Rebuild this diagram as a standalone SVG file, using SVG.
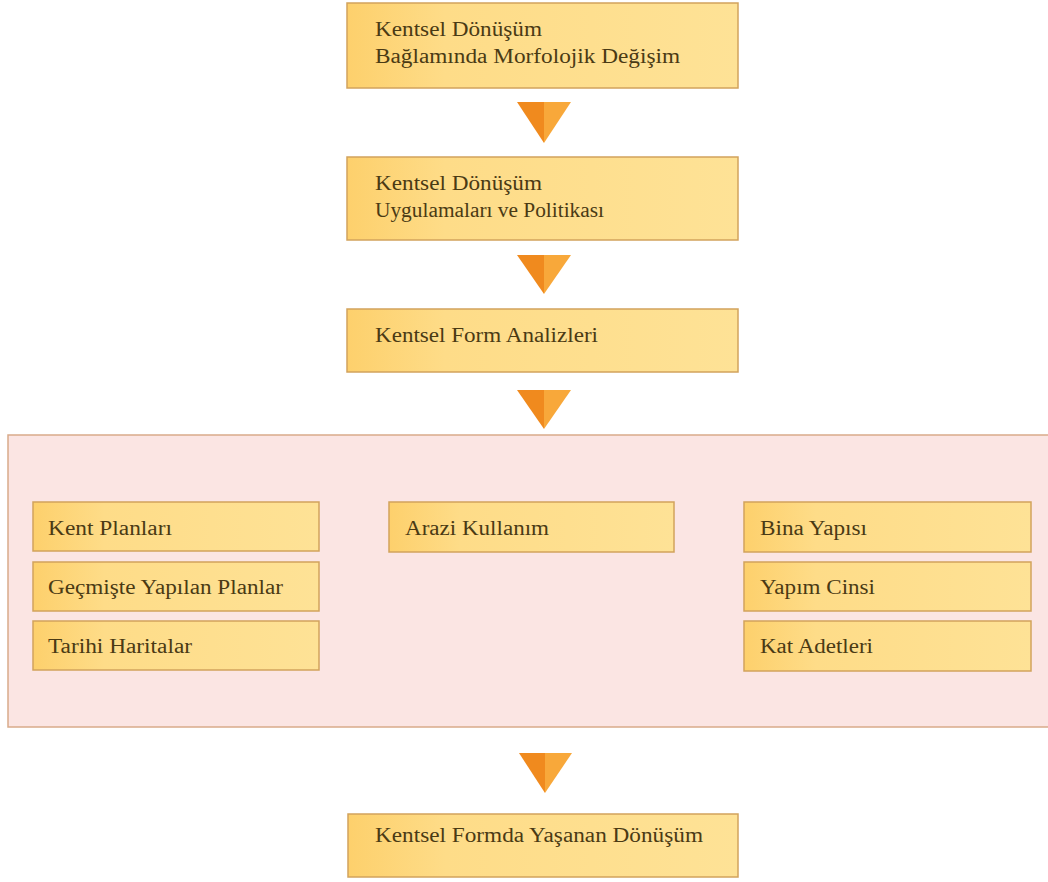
<svg xmlns="http://www.w3.org/2000/svg" width="1048" height="882" viewBox="0 0 1048 882">
<style>
.box{fill:url(#g);stroke:#d2a35c;stroke-width:1.5}
.t{font-family:"Liberation Serif","Times New Roman",serif;font-size:20px;fill:#4a3a14}
.l{fill:#f08a1e}
.r{fill:#f8a83a}
</style>
<defs>
<linearGradient id="g" x1="0" y1="0" x2="1" y2="0">
<stop offset="0" stop-color="#fdd06c"/>
<stop offset="0.25" stop-color="#fedc88"/>
<stop offset="1" stop-color="#fee296"/>
</linearGradient>
</defs>
<rect width="1048" height="882" fill="#ffffff"/>
<g id="panel"><rect x="8" y="435" width="1045" height="292" fill="#fbe5e3" stroke="#d9aa8a" stroke-width="1.5"/></g>
<g id="connectors">
<g><polygon class="l" points="517,102 544,102 544,143"/><polygon class="r" points="544,102 571,102 544,143"/></g>
<g><polygon class="l" points="517,255 544,255 544,294"/><polygon class="r" points="544,255 571,255 544,294"/></g>
<g><polygon class="l" points="517,390 544,390 544,429"/><polygon class="r" points="544,390 571,390 544,429"/></g>
<g><polygon class="l" points="519,753 545,753 545,793"/><polygon class="r" points="545,753 572,753 545,793"/></g>
</g>
<g id="n1"><rect class="box" x="347" y="3" width="391" height="85"/><text class="t" x="375" y="36" textLength="167" lengthAdjust="spacingAndGlyphs">Kentsel Dönüşüm</text><text class="t" x="375" y="63" textLength="305" lengthAdjust="spacingAndGlyphs">Bağlamında Morfolojik Değişim</text></g>
<g id="n2"><rect class="box" x="347" y="157" width="391" height="83"/><text class="t" x="375" y="190" textLength="167" lengthAdjust="spacingAndGlyphs">Kentsel Dönüşüm</text><text class="t" x="375" y="217" textLength="229" lengthAdjust="spacingAndGlyphs">Uygulamaları ve Politikası</text></g>
<g id="n3"><rect class="box" x="347" y="309" width="391" height="63"/><text class="t" x="375" y="342" textLength="223" lengthAdjust="spacingAndGlyphs">Kentsel Form Analizleri</text></g>
<g id="n4"><rect class="box" x="33" y="502" width="286" height="49"/><text class="t" x="48" y="535" textLength="124" lengthAdjust="spacingAndGlyphs">Kent Planları</text></g>
<g id="n5"><rect class="box" x="33" y="562" width="286" height="49"/><text class="t" x="48" y="594" textLength="235" lengthAdjust="spacingAndGlyphs">Geçmişte Yapılan Planlar</text></g>
<g id="n6"><rect class="box" x="33" y="621" width="286" height="49"/><text class="t" x="48" y="653" textLength="144" lengthAdjust="spacingAndGlyphs">Tarihi Haritalar</text></g>
<g id="n7"><rect class="box" x="389" y="502" width="285" height="50"/><text class="t" x="405" y="535" textLength="144" lengthAdjust="spacingAndGlyphs">Arazi Kullanım</text></g>
<g id="n8"><rect class="box" x="744" y="502" width="287" height="50"/><text class="t" x="760" y="535" textLength="107" lengthAdjust="spacingAndGlyphs">Bina Yapısı</text></g>
<g id="n9"><rect class="box" x="744" y="562" width="287" height="49"/><text class="t" x="760" y="594" textLength="115" lengthAdjust="spacingAndGlyphs">Yapım Cinsi</text></g>
<g id="n10"><rect class="box" x="744" y="621" width="287" height="50"/><text class="t" x="760" y="653" textLength="113" lengthAdjust="spacingAndGlyphs">Kat Adetleri</text></g>
<g id="n11"><rect class="box" x="348" y="814" width="390" height="63"/><text class="t" x="375" y="842" textLength="328" lengthAdjust="spacingAndGlyphs">Kentsel Formda Yaşanan Dönüşüm</text></g>
</svg>
